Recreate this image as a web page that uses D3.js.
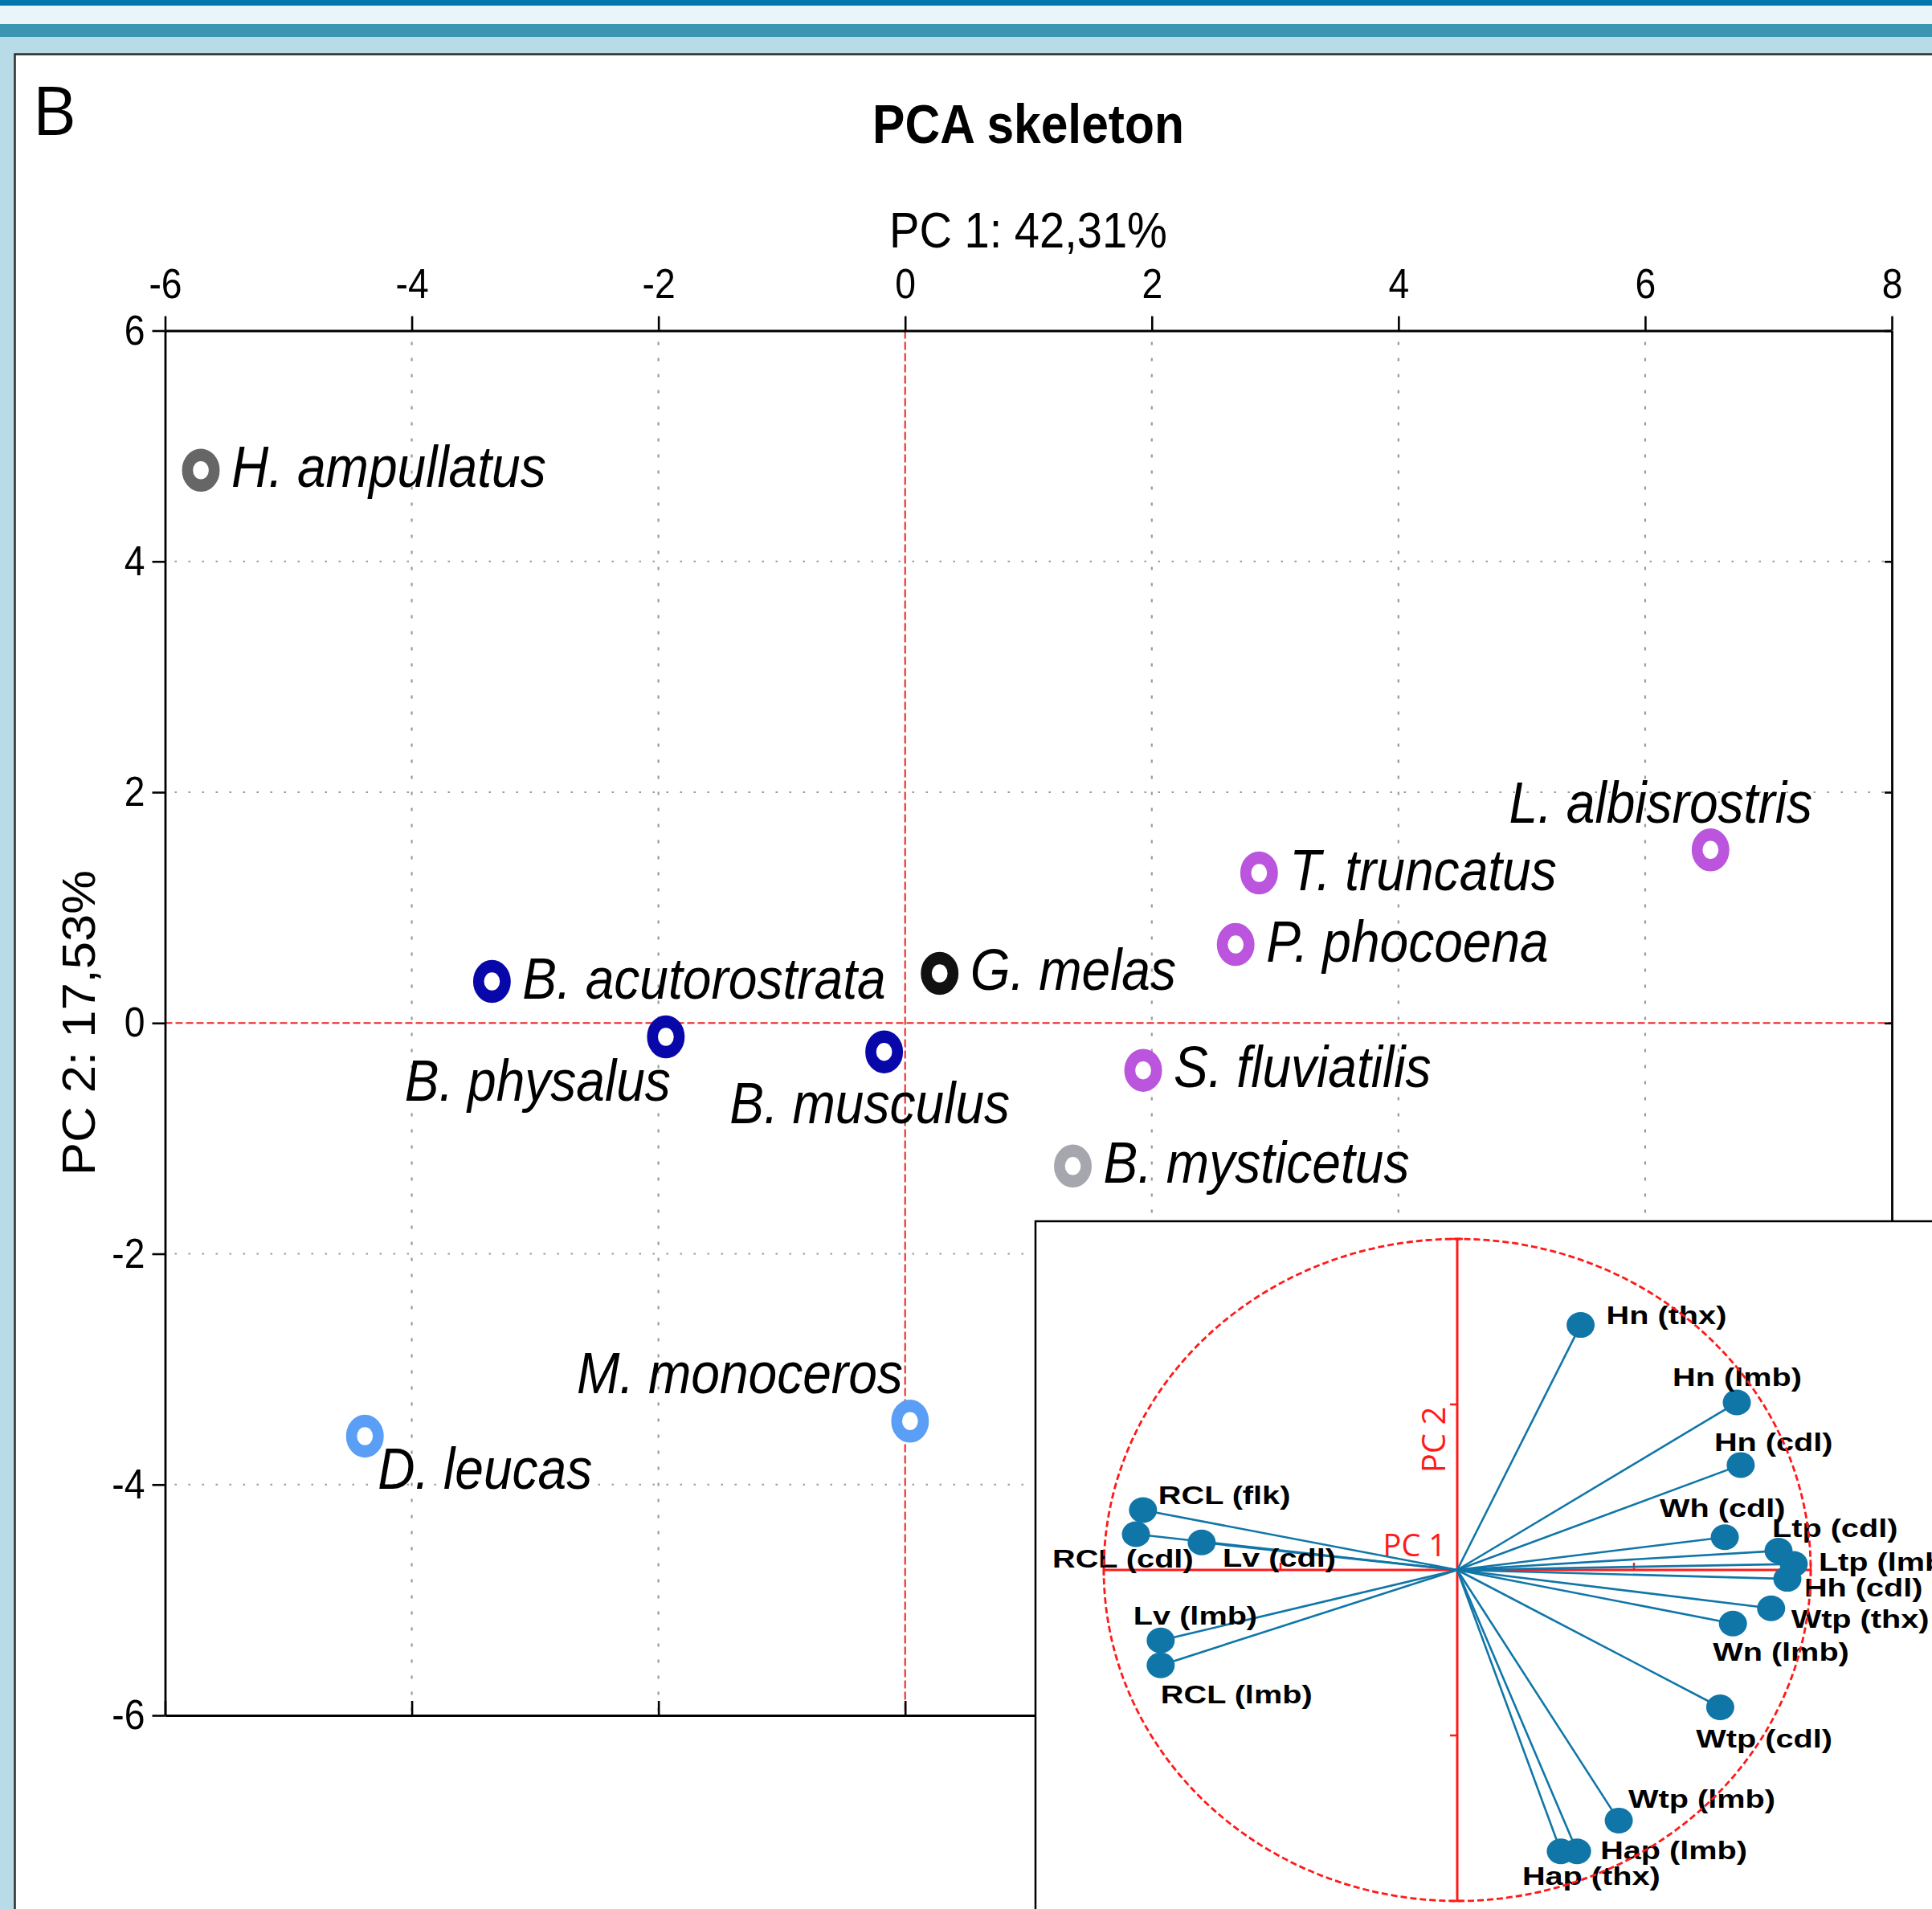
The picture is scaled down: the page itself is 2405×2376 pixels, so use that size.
<!DOCTYPE html>
<html><head><meta charset="utf-8">
<script src="https://cdn.jsdelivr.net/npm/d3@7"></script>
<style>html,body{margin:0;padding:0;background:#fff;overflow:hidden}</style>
</head><body>
<svg id="chart" width="2405" height="2376" xmlns="http://www.w3.org/2000/svg"></svg>
<script>
// ---------- data ----------
const species = ["H. ampullatus","B. acutorostrata","B. physalus","B. musculus","G. melas","T. truncatus","P. phocoena","L. albisrostris","S. fluviatilis","B. mysticetus","M. monoceros","D. leucas"];
const pc1 = [-5.71,-3.35,-1.94,-0.17,0.28,2.87,2.68,6.53,1.93,1.36,0.04,-4.38];
const pc2 = [4.79,0.36,-0.12,-0.25,0.43,1.30,0.68,1.50,-0.41,-1.24,-3.45,-3.58];
const group = ["Ziphiidae","Balaenopteridae","Balaenopteridae","Balaenopteridae","Globicephala","Delphinoidea","Delphinoidea","Delphinoidea","Delphinoidea","Balaenidae","Monodontidae","Monodontidae"];
const xTicks = [-6,-4,-2,0,2,4,6,8];
const yTicks = [-6,-4,-2,0,2,4,6];
const variables = ["Hn (thx)","Hn (lmb)","Hn (cdl)","Wh (cdl)","Ltp (cdl)","Ltp (lmb)","Hh (cdl)","Wtp (thx)","Wn (lmb)","Wtp (cdl)","Wtp (lmb)","Hap (lmb)","Hap (thx)","RCL (flk)","RCL (cdl)","Lv (cdl)","Lv (lmb)","RCL (lmb)"];
const loadPC1 = [0.349,0.791,0.802,0.757,0.909,0.952,0.934,0.888,0.780,0.744,0.457,0.339,0.293,-0.889,-0.909,-0.723,-0.839,-0.839];
const loadPC2 = [0.740,0.506,0.317,0.099,0.058,0.018,-0.027,-0.116,-0.162,-0.415,-0.757,-0.850,-0.850,0.181,0.108,0.083,-0.213,-0.288];
const loadTicks = [-1,-0.5,0.5,1];
const titleText = "PCA skeleton";
const xTitle = "PC 1: 42,31%";
const yTitle = "PC 2: 17,53%";
const panelLetter = "B";
const insetX = "PC 1", insetY = "PC 2";

// ---------- styles / layout ----------
const groupColor = {Ziphiidae:"#666666",Balaenopteridae:"#0808aa",Globicephala:"#111111",Delphinoidea:"#bb55dd",Balaenidae:"#a6a6ae",Monodontidae:"#5a9ff5"};
const labelPlace = {
  "B. physalus":{anchor:"end",dx:6,dy:80},
  "B. musculus":{anchor:"middle",dx:-18,dy:89},
  "L. albisrostris":{anchor:"middle",dx:-62,dy:-34},
  "M. monoceros":{anchor:"end",dx:-9,dy:-35},
  "D. leucas":{anchor:"start",dx:16,dy:66}
};
const defaultPlace = {anchor:"start",dx:38,dy:21};
const loadLabelOffset = {
  "Hn (thx)":[32,-1],"Hn (lmb)":[-80,-21],"Hn (cdl)":[-33,-17],"Wh (cdl)":[-81,-25],
  "Ltp (cdl)":[-8,-17],"Ltp (lmb)":[31,8],"Hh (cdl)":[21,22],"Wtp (thx)":[25,24],
  "Wn (lmb)":[-25,46],"Wtp (cdl)":[-30,50],"Wtp (lmb)":[12,-16],"Hap (lmb)":[29,10],
  "Hap (thx)":[-48,42],"RCL (flk)":[19,-7],"RCL (cdl)":[-104,41],"Lv (cdl)":[26,30],
  "Lv (lmb)":[-34,-20],"RCL (lmb)":[0,47]
};
const SX = 0.89; // horizontal compression of main-plot text
const FONT = "'Liberation Sans', Arial, sans-serif";

const svg = d3.select("#chart");

// ---------- frame ----------
svg.append("rect").attr("x",0).attr("y",0).attr("width",2405).attr("height",2376).attr("fill","#ffffff");
svg.append("rect").attr("x",0).attr("y",0).attr("width",2405).attr("height",7).attr("fill","#0077ab");
svg.append("rect").attr("x",0).attr("y",7).attr("width",2405).attr("height",23).attr("fill","#e9f5f8");
svg.append("rect").attr("x",0).attr("y",30).attr("width",2405).attr("height",16).attr("fill","#3a96b1");
svg.append("rect").attr("x",0).attr("y",46).attr("width",2405).attr("height",21).attr("fill","#b7dce7");
svg.append("rect").attr("x",0).attr("y",46).attr("width",18).attr("height",2330).attr("fill","#b7dce7");
svg.append("path").attr("d","M18.5,2376V67.5H2405").attr("fill","none").attr("stroke","#2a2a2a").attr("stroke-width",2.5);

svg.append("text").attr("x",40).attr("y",168).attr("font-family","'Open Sans', sans-serif")
  .attr("font-size",85).attr("fill","#000").text(panelLetter);

// ---------- main scales ----------
const x = d3.scaleLinear().domain([-6,8]).range([205.5,2355]);
const y = d3.scaleLinear().domain([-6,6]).range([2135,411.5]);

const g = svg.append("g");

// grid
g.selectAll(".vgrid").data(xTicks.filter(t=>t!==0 && t!==-6 && t!==8)).join("line")
  .attr("x1",d=>x(d)).attr("x2",d=>x(d)).attr("y1",y(6)).attr("y2",y(-6))
  .attr("stroke","#9a9a9a").attr("stroke-width",2.2).attr("stroke-dasharray","4 16").attr("stroke-dashoffset",-14);
g.selectAll(".hgrid").data(yTicks.filter(t=>t!==0 && t!==-6 && t!==6)).join("line")
  .attr("x1",x(-6)).attr("x2",x(8)).attr("y1",d=>y(d)).attr("y2",d=>y(d))
  .attr("stroke","#9a9a9a").attr("stroke-width",2.2).attr("stroke-dasharray","2.5 14.5").attr("stroke-dashoffset",-12);
// zero lines
g.append("line").attr("x1",x(0)).attr("x2",x(0)).attr("y1",y(6)).attr("y2",y(-6))
  .attr("stroke","#ee2222").attr("stroke-width",2).attr("stroke-dasharray","10 4");
g.append("line").attr("x1",x(-6)).attr("x2",x(8)).attr("y1",y(0)).attr("y2",y(0))
  .attr("stroke","#ee2222").attr("stroke-width",2.2).attr("stroke-dasharray","9 4");

// axes
const fmt = d => String(d);
const axTop = g.append("g").attr("transform",`translate(0,${y(6)})`)
  .call(d3.axisTop(x).tickValues(xTicks).tickSize(18).tickSizeOuter(0).tickPadding(23).tickFormat(fmt));
const axLeft = g.append("g").attr("transform",`translate(${x(-6)},0)`)
  .call(d3.axisLeft(y).tickValues(yTicks).tickSize(16).tickSizeOuter(0).tickPadding(9).tickFormat(fmt));
const axBottom = g.append("g").attr("transform",`translate(0,${y(-6)})`)
  .call(d3.axisBottom(x).tickValues(xTicks).tickSize(-18).tickSizeOuter(0).tickFormat(""));
const axRight = g.append("g").attr("transform",`translate(${x(8)},0)`)
  .call(d3.axisRight(y).tickValues(yTicks).tickSize(-9).tickSizeOuter(0).tickFormat(""));
[axTop,axLeft,axBottom,axRight].forEach(a=>{
  a.selectAll("path.domain").attr("stroke","#000").attr("stroke-width",2.8);
  a.selectAll(".tick line").attr("stroke","#000").attr("stroke-width",2.6);
  a.selectAll("text").attr("font-family",FONT).attr("font-size",52).attr("fill","#000");
});
axTop.selectAll("text").attr("transform",`scale(${SX},1)`);
axLeft.selectAll("text").attr("x",-25/SX).attr("transform",`scale(${SX},1)`);

// titles
svg.append("text").attr("transform",`translate(1280,178) scale(${SX},1)`).attr("text-anchor","middle")
  .attr("font-family",FONT).attr("font-weight","bold").attr("font-size",68).text(titleText);
svg.append("text").attr("transform",`translate(1280,308) scale(${SX},1)`).attr("text-anchor","middle")
  .attr("font-family",FONT).attr("font-size",63).text(xTitle);
svg.append("text").attr("transform",`translate(118,1273) rotate(-90) scale(1.08,1)`).attr("text-anchor","middle")
  .attr("font-family",FONT).attr("font-size",57).text(yTitle);

// points
const pts = species.map((s,i)=>({name:s,x:pc1[i],y:pc2[i],grp:group[i]}));
g.selectAll(".pt").data(pts).join("circle")
  .attr("transform",d=>`translate(${x(d.x)},${y(d.y)}) scale(0.877,1)`)
  .attr("r",19).attr("fill","#fff").attr("stroke",d=>groupColor[d.grp]).attr("stroke-width",15.5);
g.selectAll(".lbl").data(pts).join("text")
  .attr("transform",d=>{const p=labelPlace[d.name]||defaultPlace;return `translate(${x(d.x)+p.dx},${y(d.y)+p.dy}) scale(${SX},1)`;})
  .attr("text-anchor",d=>(labelPlace[d.name]||defaultPlace).anchor)
  .attr("font-family",FONT).attr("font-style","italic").attr("font-size",72).attr("fill","#000")
  .text(d=>d.name);

// ---------- inset ----------
const ins = svg.append("g");
ins.append("rect").attr("x",1289).attr("y",1520).attr("width",1200).attr("height",900)
  .attr("fill","#fff").attr("stroke","#000").attr("stroke-width",2.5);
const lx = d3.scaleLinear().domain([-1,1]).range([1374,2254]);
const ly = d3.scaleLinear().domain([-1,1]).range([2366,1542]);
const red = "#ff1a1a";
// axes
ins.append("line").attr("x1",lx(0)).attr("x2",lx(0)).attr("y1",ly(1)).attr("y2",ly(-1)).attr("stroke",red).attr("stroke-width",3);
ins.append("line").attr("x1",lx(-1)).attr("x2",lx(1)).attr("y1",ly(0)).attr("y2",ly(0)).attr("stroke",red).attr("stroke-width",3);
ins.selectAll(".vt").data(loadTicks).join("line")
  .attr("x1",d=>lx(0)-9).attr("x2",d=>Math.abs(d)===1?lx(0)+7:lx(0)).attr("y1",d=>ly(d)).attr("y2",d=>ly(d))
  .attr("stroke",red).attr("stroke-width",2.5);
ins.selectAll(".ht").data(loadTicks).join("line")
  .attr("y1",d=>ly(0)-9).attr("y2",d=>Math.abs(d)===1?ly(0)+7:ly(0)).attr("x1",d=>lx(d)).attr("x2",d=>lx(d))
  .attr("stroke",red).attr("stroke-width",2.5);
ins.append("text").attr("x",1800).attr("y",1937).attr("text-anchor","end").attr("fill",red)
  .attr("font-family","'Open Sans', sans-serif").attr("font-size",38).text(insetX);
ins.append("text").attr("transform","translate(1799,1792) rotate(-90)").attr("text-anchor","middle").attr("fill",red)
  .attr("font-family","'Open Sans', sans-serif").attr("font-size",40).text(insetY);

const loads = variables.map((v,i)=>({name:v,a:loadPC1[i],b:loadPC2[i]}));
const blue = "#1076a8";
ins.selectAll(".vec").data(loads).join("line")
  .attr("x1",lx(0)).attr("y1",ly(0)).attr("x2",d=>lx(d.a)).attr("y2",d=>ly(d.b))
  .attr("stroke",blue).attr("stroke-width",2.6);
ins.selectAll(".dot").data(loads).join("ellipse")
  .attr("cx",d=>lx(d.a)).attr("cy",d=>ly(d.b)).attr("rx",17.5).attr("ry",16).attr("fill",blue);
ins.selectAll(".vl").data(loads).join("text")
  .attr("transform",d=>{const o=loadLabelOffset[d.name]||[20,0];return `translate(${lx(d.a)+o[0]},${ly(d.b)+o[1]}) scale(1.24,1)`;})
  .attr("font-family",FONT).attr("font-weight","bold").attr("font-size",32).attr("fill","#000")
  .text(d=>d.name);
// correlation circle (drawn on top)
ins.append("ellipse").attr("cx",lx(0)).attr("cy",ly(0)).attr("rx",lx(1)-lx(0)).attr("ry",ly(0)-ly(1))
  .attr("fill","none").attr("stroke",red).attr("stroke-width",2.8).attr("stroke-dasharray","8 4");
</script>
</body></html>
